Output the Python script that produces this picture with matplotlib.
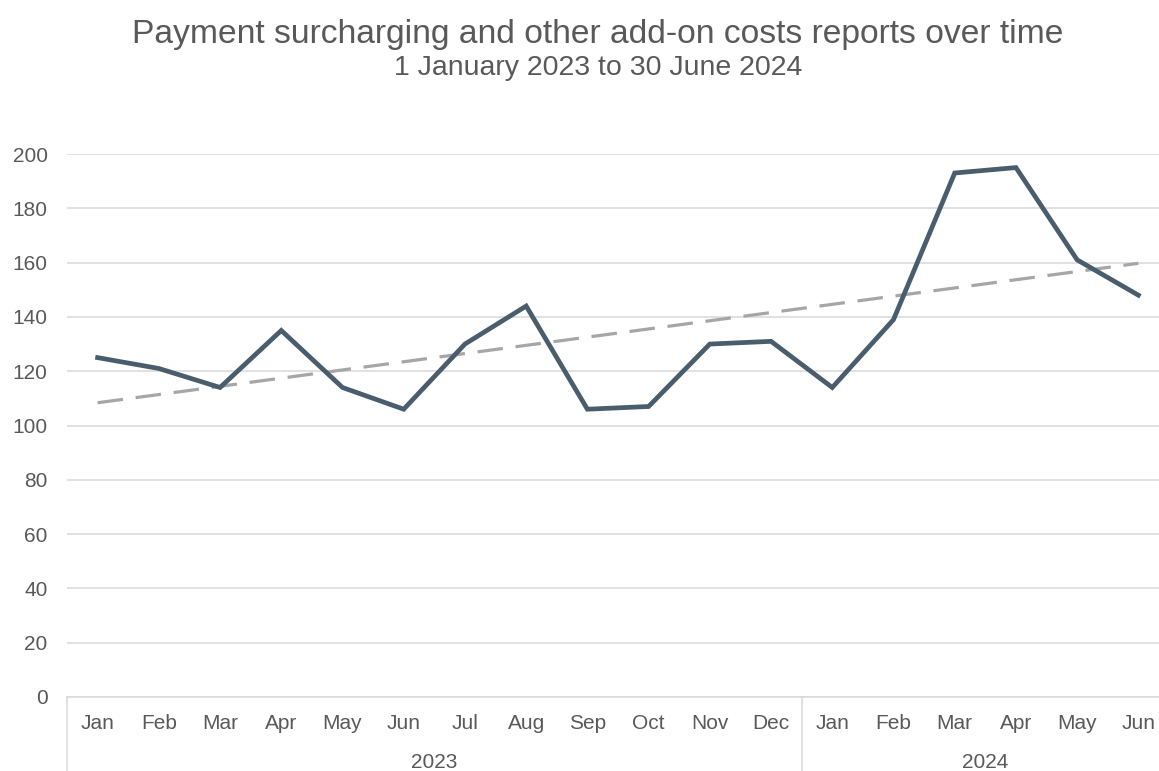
import numpy as np
import matplotlib
matplotlib.use("Agg")
import matplotlib.pyplot as plt
import matplotlib.transforms as mtransforms

plt.rcParams["font.family"] = ["Liberation Sans", "DejaVu Sans"]

# monthly report counts, Jan 2023 - Jun 2024
months = ["Jan", "Feb", "Mar", "Apr", "May", "Jun", "Jul", "Aug", "Sep",
          "Oct", "Nov", "Dec", "Jan", "Feb", "Mar", "Apr", "May", "Jun"]
years = ["2023", "2024"]
year_counts = [12, 6]
reports = [125, 121, 114, 135, 114, 106, 130, 144, 106,
           107, 130, 131, 114, 139, 193, 195, 161, 148]

TEXT = "#595959"
GRID = "#d9d9d9"

fig = plt.figure(figsize=(11.59, 7.71), dpi=100)
ax = fig.add_axes([67 / 1159, 74 / 771, 1102 / 1159, 543 / 771])

x = np.arange(len(reports))
ax.plot(x, reports, color="#4a5d6c", linewidth=3.4,
        solid_joinstyle="miter", zorder=3, clip_on=False)

# linear trendline
slope, intercept = np.polyfit(x, reports, 1)
ax.plot(x, slope * x + intercept, color="#a6a6a6", linewidth=2.3,
        dashes=(8, 4), zorder=2, clip_on=False)

ax.set_xlim(-0.5, len(reports) - 0.5)
ax.set_ylim(0, 200)
ax.set_yticks(range(0, 201, 20))
ax.grid(axis="y", color=GRID, linewidth=1.1)
ax.set_axisbelow(True)

for s in ["top", "right", "left"]:
    ax.spines[s].set_visible(False)
ax.spines["bottom"].set_color(GRID)
ax.spines["bottom"].set_linewidth(1.1)

ax.set_xticks(x)
ax.set_xticklabels(months)
ax.tick_params(axis="x", length=0, pad=12, labelsize=15, labelcolor=TEXT)
ax.tick_params(axis="y", length=0, pad=14, labelsize=15, labelcolor=TEXT)

# year groups with separators
trans = mtransforms.blended_transform_factory(ax.transData, ax.transAxes)
start = -0.5
for yr, n in zip(years, year_counts):
    ax.plot([start, start], [0, -0.2], transform=trans, color=GRID,
            linewidth=1.1, clip_on=False)
    ax.text(start + n / 2, -0.121, yr, transform=trans, ha="center",
            va="center", fontsize=15, color=TEXT)
    start += n
ax.plot([start, start], [0, -0.2], transform=trans, color=GRID,
        linewidth=1.1, clip_on=False)

fig.text(0.516, 1 - 34 / 771,
         "Payment surcharging and other add-on costs reports over time",
         ha="center", va="center", fontsize=24.2, color=TEXT)
fig.text(0.516, 1 - 68 / 771, "1 January 2023 to 30 June 2024",
         ha="center", va="center", fontsize=20.5, color=TEXT)

fig.savefig("out.png", dpi=100)
